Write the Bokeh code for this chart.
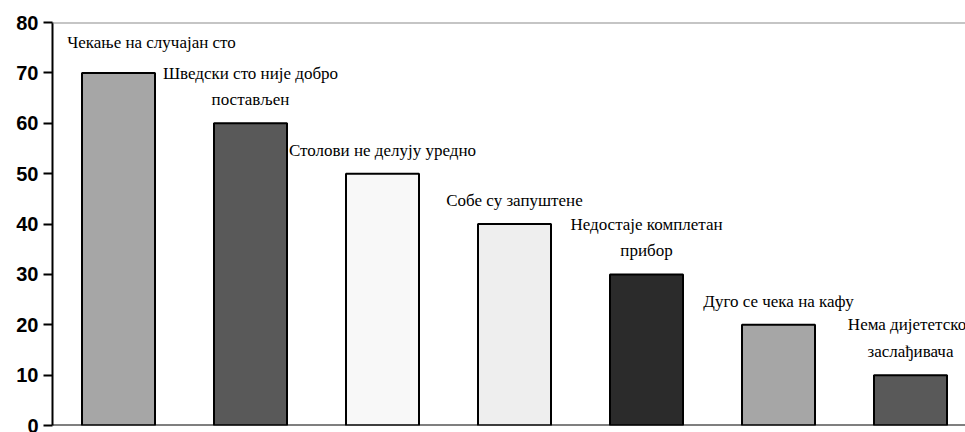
from bokeh.plotting import figure
from bokeh.models import Range1d, Span, ColumnDataSource, FixedTicker
from bokeh.core.properties import value
from bokeh.embed import file_html
from bokeh.resources import INLINE

categories = ["Чекање на случајан сто", "Шведски сто није добро\nпостављен",
              "Столови не делују уредно", "Собе су запуштене",
              "Недостаје комплетан\nприбор", "Дуго се чека на кафу",
              "Нема дијететског\nзаслађивача"]
values = [70, 60, 50, 40, 30, 20, 10]
colors = ["#a6a6a6", "#595959", "#f8f8f8", "#eeeeee", "#2b2b2b", "#a6a6a6", "#595959"]
y_ticks = [0, 10, 20, 30, 40, 50, 60, 70, 80]

xs = list(range(len(values)))
lx = [x + (0.25 if i == 0 else 0.0) for i, x in enumerate(xs)]
ly = [v + (4.2 if i == 0 else 2.8) for i, v in enumerate(values)]

src = ColumnDataSource(dict(x=xs, top=values, color=colors, lx=lx, ly=ly, label=categories))

W, H = 965, 432
p = figure(width=W, height=H, output_backend="svg", toolbar_location=None,
           x_range=Range1d(-0.5, -0.5 + (W - 52) / 132.0), y_range=Range1d(0, 80),
           min_border_left=52, min_border_right=0, min_border_top=22, min_border_bottom=7)
p.outline_line_color = None
p.grid.visible = False
p.xaxis.visible = False
p.background_fill_color = "white"

p.vbar(x="x", top="top", bottom=0, width=73 / 132.0, fill_color="color",
       line_color="black", line_width=2, source=src)

p.text(x="lx", y="ly", text="label", source=src, text_align="center", text_baseline="bottom",
       text_font=value("Liberation Serif"), text_font_size="17px",
       text_color="black", text_line_height=1.4)

p.add_layout(Span(location=80, dimension="width", line_color="#8c8c8c", line_width=2))
p.add_layout(Span(location=0, dimension="width", line_color="black", line_width=2))

ya = p.yaxis[0]
ya.ticker = FixedTicker(ticks=y_ticks)
ya.axis_line_width = 2
ya.axis_line_color = "black"
ya.major_tick_line_width = 2
ya.major_tick_out = 9
ya.major_tick_in = 0
ya.minor_tick_line_color = None
ya.major_label_text_font = "Liberation Sans"
ya.major_label_text_font_style = "bold"
ya.major_label_text_font_size = "20px"
ya.major_label_text_color = "black"
ya.major_label_standoff = 5

open("out.html", "w").write(file_html(p, INLINE))
